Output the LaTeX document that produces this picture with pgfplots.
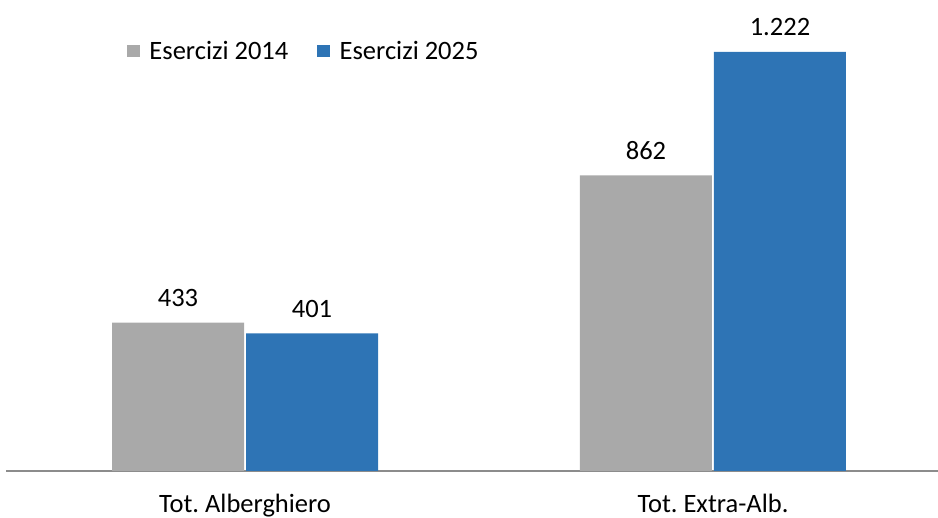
\documentclass[border=0pt]{standalone}
\usepackage{fontspec}
\setmainfont{Carlito}
\usepackage{pgfplots}
\pgfplotsset{compat=1.18}
\definecolor{cgray}{HTML}{A9A9A9}
\definecolor{cblue}{HTML}{2E74B5}
\definecolor{caxis}{HTML}{8C8C8C}
\begin{document}
\frenchspacing
\fontsize{26.5pt}{31pt}\selectfont
\begin{tikzpicture}
\useasboundingbox (-6pt,-47pt) rectangle (932pt,471pt);
\begin{axis}[
  at={(0pt,0pt)}, anchor=south west,
  scale only axis, width=932pt, height=471pt,
  ymin=0, ymax=1373.6, xmin=-0.5107, xmax=1.4808,
  hide y axis,
  axis x line*=bottom,
  axis line style={caxis, line width=1.6pt, -},
  xtick={0,1}, xticklabels={Tot. Alberghiero, Tot. Extra-Alb.},
  major tick length=0pt,
  xticklabel style={anchor=base, inner sep=0pt, yshift=-42pt, font=\fontsize{26.5pt}{31pt}\selectfont},
  ybar=2pt, bar width=132pt,
  /pgf/number format/assume math mode=true,
  /pgf/number format/1000 sep={.},
  nodes near coords,
  nodes near coords style={anchor=south, inner sep=0pt, yshift=16pt, font=\fontsize{26.5pt}{31pt}\selectfont, black},
  clip=false,
  legend columns=2,
  legend style={draw=none, fill=none, inner sep=0pt, at={(0.1298,0.8896)}, anchor=west,
    font=\fontsize{26.5pt}{31pt}\selectfont,
    nodes={inner sep=0pt},
    /tikz/every odd column/.append style={column sep=9.7pt},
    /tikz/every even column/.append style={column sep=29pt}},
  legend image code/.code={\fill[#1] (0pt,-5.3pt) rectangle (12.6pt,6.7pt);},
]
\addplot[fill=cgray, draw=none] coordinates {(0,433) (1,862)};
\addplot[fill=cblue, draw=none] coordinates {(0,401) (1,1222)};
\legend{Esercizi 2014, Esercizi 2025}
\end{axis}
\end{tikzpicture}
\end{document}
